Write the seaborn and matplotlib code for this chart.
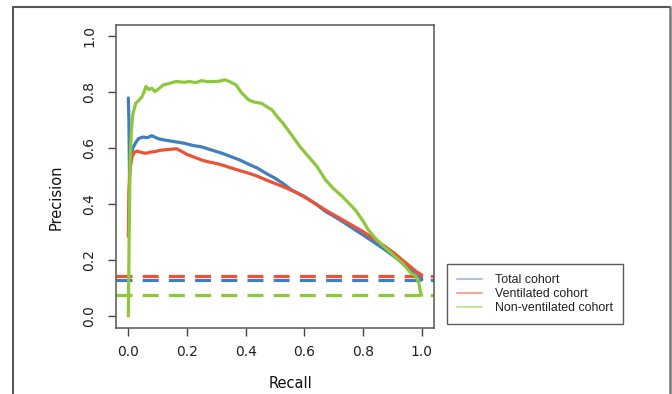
import numpy as np
import pandas as pd
import matplotlib
matplotlib.use("Agg")
import matplotlib.pyplot as plt
from matplotlib.lines import Line2D
import seaborn as sns

series_names = ["Total cohort", "Ventilated cohort", "Non-ventilated cohort"]

total_recall = [0.0, 0.002, 0.004, 0.008, 0.015, 0.025, 0.035, 0.05, 0.065, 0.08, 0.1, 0.12, 0.15,
                0.19, 0.22, 0.25, 0.28, 0.32, 0.35, 0.38, 0.41, 0.44, 0.47, 0.50, 0.53, 0.556, 0.60,
                0.64, 0.672, 0.70, 0.73, 0.77, 0.80, 0.84, 0.876, 0.91, 0.934, 0.96, 0.98, 1.0, 1.0]
total_precision = [0.78, 0.70, 0.50, 0.56, 0.60, 0.62, 0.635, 0.64, 0.638, 0.645, 0.635, 0.63, 0.625,
                   0.618, 0.61, 0.605, 0.595, 0.582, 0.57, 0.558, 0.543, 0.529, 0.51, 0.493, 0.472,
                   0.451, 0.427, 0.40, 0.374, 0.357, 0.338, 0.31, 0.29, 0.262, 0.236, 0.21, 0.189,
                   0.165, 0.148, 0.135, 0.129]

vent_recall = [0.0, 0.002, 0.004, 0.008, 0.013, 0.02, 0.03, 0.045, 0.06, 0.075, 0.09, 0.11, 0.13,
               0.15, 0.165, 0.18, 0.2, 0.22, 0.25, 0.27, 0.294, 0.32, 0.352, 0.38, 0.41, 0.44, 0.469,
               0.5, 0.527, 0.56, 0.6, 0.64, 0.672, 0.70, 0.73, 0.77, 0.80, 0.84, 0.876, 0.91, 0.934,
               0.96, 0.98, 1.0, 1.0]
vent_precision = [0.284, 0.45, 0.50, 0.54, 0.57, 0.585, 0.59, 0.585, 0.582, 0.586, 0.588, 0.593,
                  0.595, 0.597, 0.598, 0.59, 0.578, 0.57, 0.558, 0.552, 0.547, 0.54, 0.529, 0.52,
                  0.511, 0.5, 0.487, 0.474, 0.463, 0.448, 0.427, 0.40, 0.379, 0.362, 0.344, 0.32,
                  0.302, 0.274, 0.248, 0.222, 0.2, 0.178, 0.16, 0.147, 0.143]

nonvent_recall = [0.0, 0.003, 0.006, 0.01, 0.015, 0.025, 0.035, 0.047, 0.053, 0.06, 0.07, 0.08, 0.09,
                  0.1, 0.12, 0.14, 0.163, 0.19, 0.207, 0.23, 0.25, 0.27, 0.294, 0.31, 0.33, 0.35,
                  0.367, 0.385, 0.41, 0.43, 0.454, 0.47, 0.49, 0.51, 0.527, 0.555, 0.585, 0.61,
                  0.643, 0.672, 0.70, 0.73, 0.774, 0.80, 0.818, 0.847, 0.87, 0.891, 0.934, 0.964,
                  0.98, 0.99, 0.995, 1.0]
nonvent_precision = [0.0, 0.3, 0.55, 0.654, 0.72, 0.761, 0.77, 0.785, 0.80, 0.821, 0.81, 0.815, 0.803,
                     0.81, 0.827, 0.832, 0.839, 0.836, 0.839, 0.835, 0.842, 0.838, 0.839, 0.84, 0.845,
                     0.836, 0.827, 0.80, 0.773, 0.765, 0.761, 0.75, 0.737, 0.71, 0.69, 0.65, 0.606,
                     0.575, 0.535, 0.487, 0.455, 0.427, 0.379, 0.34, 0.308, 0.272, 0.25, 0.23, 0.189,
                     0.153, 0.143, 0.12, 0.09, 0.074]

baselines = [0.129, 0.143, 0.074]

line_colors = ["#3F7FBF", "#EC5236", "#8DC83A"]
legend_colors = ["#A9C8E6", "#F6A899", "#C6E59A"]

frames = []
for name, r, p in [(series_names[0], total_recall, total_precision),
                   (series_names[1], vent_recall, vent_precision),
                   (series_names[2], nonvent_recall, nonvent_precision)]:
    frames.append(pd.DataFrame({"Recall": r, "Precision": p, "Cohort": name,
                                "order": np.arange(len(r))}))
df = pd.concat(frames, ignore_index=True)

sns.set_style("white")
plt.rcParams["font.family"] = ["DejaVu Sans"]

fig = plt.figure(figsize=(6.72, 3.94), dpi=100)
ax = fig.add_axes([116/672, 1-328/394, (434-116)/672, (328-25)/394])

sns.lineplot(data=df, x="Recall", y="Precision", hue="Cohort", hue_order=series_names,
             palette=line_colors, sort=False, estimator=None, units="Cohort",
             linewidth=2.3, ax=ax, legend=False)

for b, c in zip(baselines, line_colors):
    ax.axhline(b, color=c, linestyle=(0, (5, 3.2)), linewidth=2.3, zorder=1)

ax.set_xlim(-0.042, 1.042)
ax.set_ylim(-0.043, 1.041)
ax.set_xticks([0.0, 0.2, 0.4, 0.6, 0.8, 1.0])
ax.set_yticks([0.0, 0.2, 0.4, 0.6, 0.8, 1.0])
ax.set_xticklabels(["0.0", "0.2", "0.4", "0.6", "0.8", "1.0"], fontsize=10, color="#222222")
ax.set_yticklabels(["0.0", "0.2", "0.4", "0.6", "0.8", "1.0"], fontsize=10, color="#222222",
                   rotation=90, va="center")
ax.tick_params(axis="x", direction="out", length=6, width=1, color="#444444",
               bottom=True, pad=6)
ax.tick_params(axis="y", direction="out", length=6, width=1, color="#444444",
               left=True, pad=8)
ax.set_xlabel("Recall", fontsize=10.5, color="#111111")
ax.set_ylabel("Precision", fontsize=10.5, color="#111111")
ax.xaxis.set_label_coords((291-116)/318, -(383-328)/303)
ax.yaxis.set_label_coords(-(116-56)/318, (328-197)/303)
ax.xaxis.label.set_va("center")
ax.yaxis.label.set_va("center")
for s in ax.spines.values():
    s.set_color("#555555")
    s.set_linewidth(1.1)

handles = [Line2D([0], [0], color=c, lw=1.5) for c in legend_colors]
leg = fig.legend(handles, series_names, loc="upper left",
                 bbox_to_anchor=(447/672, 1-264/394), bbox_transform=fig.transFigure,
                 frameon=True, fancybox=False, handlelength=2.0,
                 prop={"family": "Liberation Sans", "size": 8.9},
                 borderpad=0.8, labelspacing=0.18, handletextpad=1.1, borderaxespad=0)
leg.get_frame().set_edgecolor("#333333")
leg.get_frame().set_linewidth(1.0)
leg.get_frame().set_boxstyle("square", pad=0)
for t in leg.get_texts():
    t.set_color("#222222")

# outer slide border
fig.add_artist(Line2D([13/672, 13/672], [0, 1-7/394], transform=fig.transFigure,
                      color="#333333", lw=1.2))
fig.add_artist(Line2D([13/672, 670/672], [1-7/394, 1-7/394], transform=fig.transFigure,
                      color="#555555", lw=1.5))
fig.add_artist(Line2D([670/672, 670/672], [0, 1-7/394], transform=fig.transFigure,
                      color="#777777", lw=1.8))

fig.savefig("out.png", dpi=100)
